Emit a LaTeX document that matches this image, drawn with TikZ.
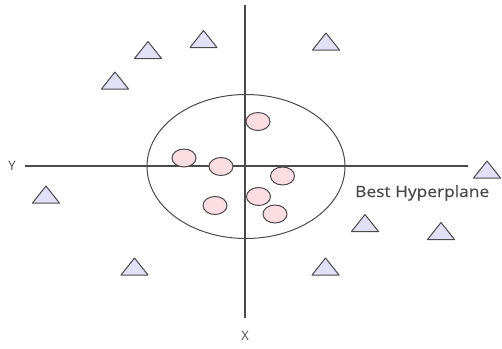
\documentclass[tikz,border=0pt]{standalone}
\usepackage{fontspec}
\setmainfont{Open Sans}
\newfontfamily\widefont[FakeStretch=1.12, FakeBold=0.6]{Open Sans}
\definecolor{axisgrey}{HTML}{4A4A4A}
\definecolor{trifill}{HTML}{E2E0F7}
\definecolor{dotfill}{HTML}{FBDDE2}
\tikzset{
    axisline/.style={axisgrey, line width=1.3pt},
    triangle/.style={fill=trifill, draw=axisgrey, line width=1pt, line join=round},
    dot/.style={fill=dotfill, draw=axisgrey, line width=1pt},
    lbl/.style={font=\fontsize{13}{15}\selectfont, text=axisgrey}
}
\begin{document}
\begin{tikzpicture}[x=1pt, y=-1pt]
    \useasboundingbox (0,0) rectangle (502,348);

    % axes
    \coordinate (ytop) at (245,5);
    \coordinate (ybot) at (245,318);
    \coordinate (xleft) at (25,166);
    \coordinate (xright) at (468,166);
    \draw[axisline] (ytop) -- (ybot);
    \draw[axisline] (xleft) -- (xright);
    \node[lbl] (xlabel) at (245,336) {X};
    \node[lbl] (ylabel) at (12,166) {Y};

    % margin around the cluster
    \draw[axisgrey, line width=1pt] (246,166.5) ellipse (99 and 72);

    % class one
    \foreach \cx/\cy in {258/121.5, 184/158, 221/166.5, 282.5/176, 258.5/196.5, 215/205.5, 275/214}
        \draw[dot] (\cx,\cy) ellipse (12 and 9);

    % class two
    \foreach \cx/\cy in {148/50, 203.5/39, 326/41.5, 115/80.5, 46/194.5, 487/169.5, 365/223, 441/231, 134.5/266.5, 325.5/266.5}
        \draw[triangle] (\cx-13.5,\cy+8.5) -- (\cx,\cy-8.5) -- (\cx+13.5,\cy+8.5) -- cycle;

    \node[lbl, font=\widefont\fontsize{15.5}{18}\selectfont, anchor=base west, inner sep=0pt] (best) at (355,197) {Best Hyperplane};
\end{tikzpicture}
\end{document}
